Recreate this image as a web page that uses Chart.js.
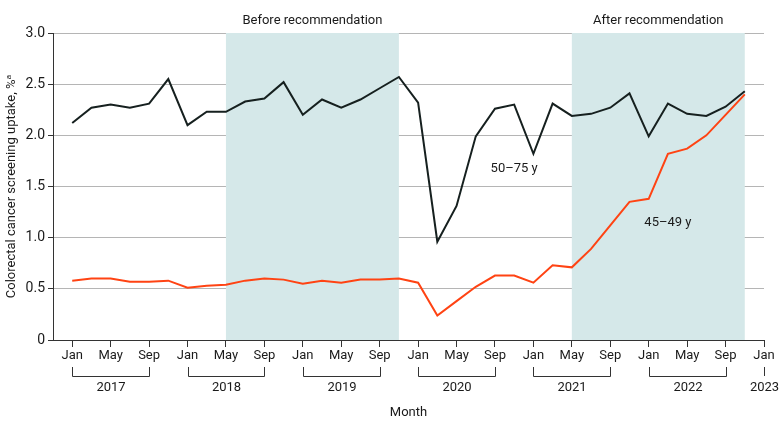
<!DOCTYPE html>
<html>
<head>
<meta charset="utf-8">
<script src="https://cdn.jsdelivr.net/npm/chart.js@4.4.1/dist/chart.umd.min.js"></script>
<style>
  html, body { margin: 0; padding: 0; background: #fff; }
  #wrap { width: 780px; height: 429px; position: relative; }
</style>
</head>
<body>
<div id="wrap"><canvas id="chart" width="780" height="429"></canvas></div>
<script>
// bimonthly observations, Jan 2017 - Nov 2022
var periods = ['2017-01','2017-03','2017-05','2017-07','2017-09','2017-11',
               '2018-01','2018-03','2018-05','2018-07','2018-09','2018-11',
               '2019-01','2019-03','2019-05','2019-07','2019-09','2019-11',
               '2020-01','2020-03','2020-05','2020-07','2020-09','2020-11',
               '2021-01','2021-03','2021-05','2021-07','2021-09','2021-11',
               '2022-01','2022-03','2022-05','2022-07','2022-09','2022-11'];

var age50to75 = [2.12, 2.27, 2.30, 2.27, 2.31, 2.55,
                 2.10, 2.23, 2.23, 2.33, 2.36, 2.52,
                 2.20, 2.35, 2.27, 2.35, 2.46, 2.57,
                 2.32, 0.96, 1.31, 1.99, 2.26, 2.30,
                 1.82, 2.31, 2.19, 2.21, 2.27, 2.41,
                 1.99, 2.31, 2.21, 2.19, 2.28, 2.43];

var age45to49 = [0.58, 0.60, 0.60, 0.57, 0.57, 0.58,
                 0.51, 0.53, 0.54, 0.58, 0.60, 0.59,
                 0.55, 0.58, 0.56, 0.59, 0.59, 0.60,
                 0.56, 0.24, 0.38, 0.52, 0.63, 0.63,
                 0.56, 0.73, 0.71, 0.89, 1.12, 1.35,
                 1.38, 1.82, 1.87, 2.00, 2.20, 2.40];

var monthTicks = ['Jan', 'May', 'Sep'];
var yTicks = [0, 0.5, 1.0, 1.5, 2.0, 2.5, 3.0];
var years = ['2017', '2018', '2019', '2020', '2021', '2022', '2023'];

var periodsShaded = [
  { from: '2018-05', to: '2019-11', label: 'Before recommendation' },
  { from: '2021-05', to: '2022-11', label: 'After recommendation' }
];

var seriesLabels = [
  { text: '50\u201375 y', at: '2020-11', y: 1.67 },
  { text: '45\u201349 y', at: '2022-03', y: 1.15 }
];

// months since Jan 2017
function monthNo(s) {
  var p = s.split('-');
  return (parseInt(p[0]) - 2017) * 12 + parseInt(p[1]) - 1;
}

function pts(vals) {
  return vals.map(function(v, i) { return { x: monthNo(periods[i]), y: v }; });
}

var FONT = 'Roboto, "Noto Sans", sans-serif';
var FS = 13;
var TXT = '#1a1a1a';

var bands = {
  id: 'bands',
  beforeDatasetsDraw: function(chart) {
    var ctx = chart.ctx, a = chart.chartArea, xs = chart.scales.x;
    ctx.save();
    periodsShaded.forEach(function(b) {
      var x0 = xs.getPixelForValue(monthNo(b.from));
      var x1 = xs.getPixelForValue(monthNo(b.to));
      ctx.fillStyle = '#d5e8e9';
      ctx.fillRect(x0, a.top, x1 - x0, a.bottom - a.top);
    });
    ctx.restore();
  }
};

var extras = {
  id: 'extras',
  afterDraw: function(chart) {
    var ctx = chart.ctx, a = chart.chartArea, xs = chart.scales.x, ys = chart.scales.y;
    ctx.save();
    ctx.fillStyle = TXT;
    ctx.font = FS + 'px ' + FONT;
    ctx.textAlign = 'center';
    ctx.textBaseline = 'middle';
    periodsShaded.forEach(function(b) {
      var x0 = xs.getPixelForValue(monthNo(b.from));
      var x1 = xs.getPixelForValue(monthNo(b.to));
      ctx.fillText(b.label, (x0 + x1) / 2, a.top - 12);
    });
    seriesLabels.forEach(function(l) {
      ctx.fillText(l.text, xs.getPixelForValue(monthNo(l.at)), ys.getPixelForValue(l.y));
    });
    // year brackets
    ctx.strokeStyle = '#333';
    ctx.lineWidth = 1;
    var top = a.bottom + 27, mid = a.bottom + 36;
    years.forEach(function(y, i) {
      var x0 = Math.round(xs.getPixelForValue(i * 12)) + 0.5;
      ctx.beginPath();
      if (i < years.length - 1) {
        var x1 = Math.round(xs.getPixelForValue(i * 12 + 8)) + 0.5;
        ctx.moveTo(x0, top); ctx.lineTo(x0, mid + 0.5); ctx.lineTo(x1, mid + 0.5); ctx.lineTo(x1, top);
        ctx.stroke();
        ctx.fillText(y, (x0 + x1) / 2, a.bottom + 48);
      } else {
        ctx.moveTo(x0, top); ctx.lineTo(x0, mid);
        ctx.stroke();
        ctx.fillText(y, x0, a.bottom + 48);
      }
    });
    ctx.restore();
  }
};

new Chart(document.getElementById('chart'), {
  type: 'line',
  data: {
    datasets: [
      { label: '50-75 y', data: pts(age50to75), borderColor: '#16201f', borderWidth: 2, pointRadius: 0, tension: 0, fill: false },
      { label: '45-49 y', data: pts(age45to49), borderColor: '#ff4313', borderWidth: 2, pointRadius: 0, tension: 0, fill: false }
    ]
  },
  plugins: [bands, extras],
  options: {
    responsive: false,
    animation: false,
    events: [],
    layout: { padding: { top: 33, right: 16, bottom: 0, left: 0 } },
    plugins: { legend: { display: false }, tooltip: { enabled: false } },
    scales: {
      x: {
        type: 'linear',
        min: -2,
        max: 72,
        afterBuildTicks: function(s) {
          var t = [];
          for (var v = 0; v <= 72; v += 4) t.push({ value: v });
          s.ticks = t;
        },
        afterFit: function(s) { s.height = 89; },
        ticks: {
          autoSkip: false,
          maxRotation: 0,
          padding: 1,
          color: TXT,
          font: { family: FONT, size: FS },
          callback: function(v) { return monthTicks[(v / 4) % 3]; }
        },
        grid: { drawOnChartArea: false, tickLength: 7, tickColor: '#333' },
        border: { color: '#333', width: 1 },
        title: { display: true, text: 'Month', color: TXT, font: { family: FONT, size: FS }, padding: { top: 0, bottom: 8 } }
      },
      y: {
        min: 0,
        max: 3,
        afterBuildTicks: function(s) {
          s.ticks = yTicks.map(function(v) { return { value: v }; });
        },
        afterFit: function(s) { s.width = 53; },
        ticks: {
          padding: 3,
          color: TXT,
          font: { family: FONT, size: FS + 1 },
          callback: function(v) { return v === 0 ? '0' : v.toFixed(1); }
        },
        grid: { color: '#b5b5b5', lineWidth: 1, tickLength: 5, tickColor: '#333' },
        border: { color: '#333', width: 1 },
        title: { display: true, text: 'Colorectal cancer screening uptake, %\u1d43', color: TXT, font: { family: FONT, size: FS }, padding: { top: 4, bottom: 0 } }
      }
    }
  }
});
</script>
</body>
</html>
